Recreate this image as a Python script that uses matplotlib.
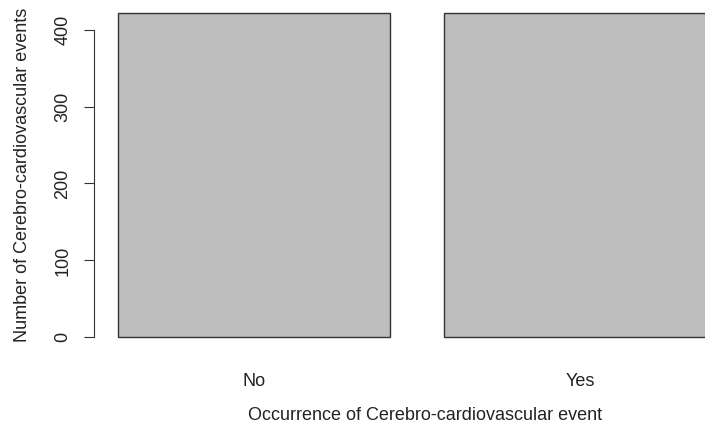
import matplotlib
matplotlib.use("Agg")
import matplotlib.pyplot as plt

categories = ["No", "Yes"]
counts = [421, 421]
y_ticks = [0, 100, 200, 300, 400]

plt.rcParams['font.family'] = ['Liberation Sans', 'DejaVu Sans']

fig = plt.figure(figsize=(7.05, 4.26), dpi=100)
# R-style plot region, running off the right edge of the figure
ax = fig.add_axes([94 / 705, 75.6 / 426, 646 / 705, 350 / 426])

# R barplot layout: width 1, space 0.2
lefts = [0.2 + i * 1.2 for i in range(len(categories))]
centers = [l + 0.5 for l in lefts]
ax.bar(lefts, counts, width=1.0, align='edge', color='#bebebe',
       edgecolor='#333333', linewidth=1.0)

span = lefts[-1] + 1.0 - lefts[0]
ax.set_xlim(lefts[0] - 0.04 * span, lefts[-1] + 1.0 + 0.04 * span)
top = max(counts)
ax.set_ylim(-0.04 * top, top * 1.04)

for s in ['top', 'right', 'bottom']:
    ax.spines[s].set_visible(False)
ax.spines['left'].set_bounds(y_ticks[0], y_ticks[-1])
ax.spines['left'].set_color('#333333')

ax.set_yticks(y_ticks)
ax.set_yticklabels([str(t) for t in y_ticks], rotation=90, va='center',
                   fontsize=13, color='#222222')
ax.tick_params(axis='y', length=7.2, width=0.8, color='#333333', pad=9)

ax.set_xticks(centers)
ax.set_xticklabels(categories, fontsize=13, color='#222222')
ax.tick_params(axis='x', length=0, pad=16)

ax.set_xlabel("Occurrence of Cerebro-cardiovascular event", fontsize=13,
              color='#222222')
ax.set_ylabel("Number of Cerebro-cardiovascular events", fontsize=13,
              color='#222222')
ax.xaxis.set_label_coords((425 - 94) / 646, -(407 - 350.4) / 350)
ax.yaxis.set_label_coords(-(94 - 31) / 646, (350.4 - 175) / 350)

fig.savefig("out.png", dpi=100)
